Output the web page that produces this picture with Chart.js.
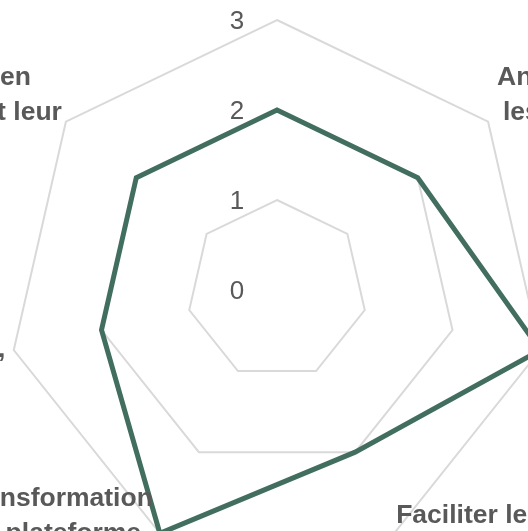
<!DOCTYPE html>
<html lang="fr">
<head>
<meta charset="utf-8">
<script src="https://cdn.jsdelivr.net/npm/chart.js@4.4.1/dist/chart.umd.min.js"></script>
<style>
  html, body { margin: 0; padding: 0; background: #fff; overflow: hidden; }
  #wrap { position: relative; width: 528px; height: 531px; overflow: hidden; }
  #radar { position: absolute; left: -123px; top: -110px; }
</style>
</head>
<body>
<div id="wrap"><canvas id="radar" width="800" height="800"></canvas></div>
<script>
// axes of the radar, clockwise from the top
const axes = [
  ['Piloter la stratégie', 'numérique'],
  ['Animer et mobiliser', 'les réseaux locaux'],
  ['Sécuriser les données', 'et les accès'],
  ['Faciliter le travail collaboratif', 'entre services'],
  ['Accompagner la transformation', 'numérique via une plateforme', 'commune'],
  ['Développer les', 'compétences numériques,', 'la formation'],
  ['Accompagner les agents en', 'développant et en valorisant leur']
];
const scores = [2, 2, 3, 2, 3, 2, 2];
const tickValues = [0, 1, 2, 3];

const GREEN = '#426e5f';
const TEXT = '#595959';
const GRID = '#d9d9d9';
const FONT = '"Liberation Sans", Arial, sans-serif';

// horizontal gap between each label block and its axis end
const labelGap = [0, 9, 5, 2, 7, 8.5, 4];

// tick numbers sit just left of the vertical axis
const tickNumbers = {
  id: 'tickNumbers',
  beforeDatasetsDraw(chart) {
    const r = chart.scales.r;
    const ctx = chart.ctx;
    ctx.save();
    ctx.font = '26px ' + FONT;
    ctx.fillStyle = TEXT;
    ctx.textAlign = 'center';
    ctx.textBaseline = 'middle';
    r.ticks.forEach(t => {
      const d = r.getDistanceFromCenterForValue(t.value);
      ctx.fillText(String(t.value), r.xCenter - 40, r.yCenter - d + 2);
    });
    ctx.restore();
  }
};

// category labels, lines centred inside their block
const axisLabels = {
  id: 'axisLabels',
  afterDatasetsDraw(chart) {
    const r = chart.scales.r;
    const ctx = chart.ctx;
    const lh = 35;
    ctx.save();
    ctx.font = 'bold 26.5px ' + FONT;
    ctx.fillStyle = TEXT;
    ctx.textAlign = 'center';
    ctx.textBaseline = 'middle';
    chart.data.labels.forEach((lines, i) => {
      const p = r.getPointPosition(i, r.drawingArea);
      const dx = p.x - r.xCenter, dy = p.y - r.yCenter;
      const gap = labelGap[i];
      const w = Math.max(...lines.map(s => ctx.measureText(s).width));
      const h = lines.length * lh;
      let left, top;
      if (Math.abs(dx) < 1) left = p.x - w / 2;
      else if (dx < 0) left = p.x - gap - w;
      else left = p.x + gap;
      if (i === 0) top = p.y - 30 - h;
      else if (dy < -1) top = p.y + 9 - h;
      else top = p.y - h / 2;
      lines.forEach((s, k) => {
        ctx.fillText(s, left + w / 2, top + (k + 0.5) * lh);
      });
    });
    ctx.restore();
  }
};

new Chart(document.getElementById('radar'), {
  type: 'radar',
  data: {
    labels: axes,
    datasets: [{
      data: scores,
      borderColor: GREEN,
      backgroundColor: 'transparent',
      borderWidth: 5,
      pointRadius: 0,
      pointHoverRadius: 0,
      fill: false,
      clip: false
    }]
  },
  options: {
    responsive: false,
    animation: false,
    layout: { padding: 130 },
    plugins: {
      legend: { display: false },
      tooltip: { enabled: false }
    },
    scales: {
      r: {
        min: tickValues[0],
        max: tickValues[tickValues.length - 1],
        ticks: { stepSize: 1, display: false },
        grid: { color: GRID, lineWidth: 2 },
        angleLines: { display: false },
        pointLabels: { display: false }
      }
    }
  },
  plugins: [tickNumbers, axisLabels]
});
</script>
</body>
</html>
